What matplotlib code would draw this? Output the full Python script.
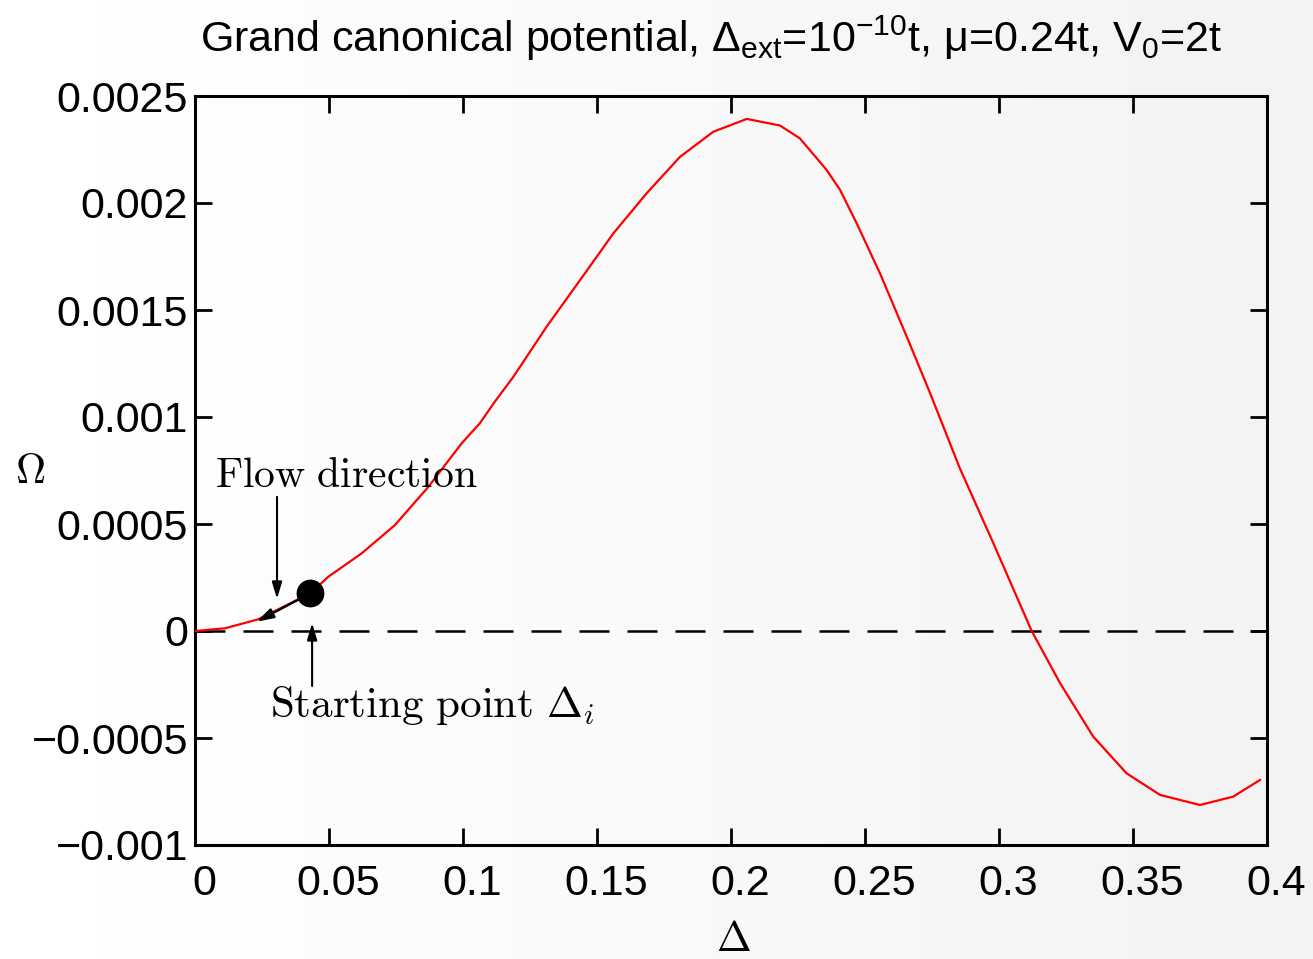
import numpy as np
import matplotlib
matplotlib.use("Agg")
import matplotlib.pyplot as plt
import matplotlib.transforms as mtransforms

# grand canonical potential
delta = [0.0, 0.0112, 0.0236, 0.0430, 0.0498, 0.0622, 0.0746, 0.0871, 0.0995,
         0.1063, 0.1119, 0.1188, 0.1312, 0.1437, 0.1561, 0.1685, 0.1810,
         0.1934, 0.2059, 0.2183, 0.2257, 0.2357, 0.2407, 0.2469, 0.2556,
         0.2656, 0.2743, 0.2854, 0.2979, 0.3122, 0.3228, 0.3352, 0.3476,
         0.3601, 0.3750, 0.3874, 0.3974]
omega = [0.0, 0.0000126, 0.0000547, 0.000176, 0.000254, 0.000363, 0.000495,
         0.000674, 0.000877, 0.000971, 0.001072, 0.001188, 0.001422,
         0.001640, 0.001858, 0.002045, 0.002216, 0.002333, 0.002393,
         0.002362, 0.002302, 0.002154, 0.002061, 0.001905, 0.001671,
         0.001375, 0.001111, 0.000760, 0.000410, 0.0, -0.000244, -0.000494,
         -0.000665, -0.000766, -0.000813, -0.000774, -0.000696]

start_point = (0.0430, 0.000176)
flow_tip = (0.0230, 0.0000435)

xticks = [0, 0.05, 0.1, 0.15, 0.2, 0.25, 0.3, 0.35, 0.4]
xtick_labels = ["0", "0.05", "0.1", "0.15", "0.2", "0.25", "0.3", "0.35", "0.4"]
yticks = [-0.001, -0.0005, 0, 0.0005, 0.001, 0.0015, 0.002, 0.0025]
ytick_labels = ["\u22120.001", "\u22120.0005", "0", "0.0005", "0.001",
                "0.0015", "0.002", "0.0025"]

plt.rcParams['font.family'] = ['Liberation Sans', 'DejaVu Sans']
plt.rcParams['mathtext.fontset'] = 'custom'
plt.rcParams['mathtext.rm'] = 'Liberation Sans'
plt.rcParams['mathtext.it'] = 'Liberation Sans:italic'
plt.rcParams['mathtext.sf'] = 'Liberation Sans'

fig = plt.figure(figsize=(13.13, 9.59), dpi=100)

# soft grey gradient behind everything
bg = fig.add_axes([0, 0, 1, 1], zorder=-10)
grad = np.linspace(1.0, 0.95, 256).reshape(1, -1)
bg.imshow(grad, cmap='gray', vmin=0, vmax=1, aspect='auto', extent=[0, 1, 0, 1])
bg.axis('off')

ax = fig.add_axes([195 / 1313, 1 - 845 / 959, 1072 / 1313, 749 / 959])
ax.set_facecolor('none')

ax.plot(delta, omega, color='red', lw=1.6, zorder=3)
ax.axhline(0, color='black', lw=1.8, linestyle=(0, (12, 7.2)), zorder=2)
ax.plot(*start_point, 'o', color='black', ms=19, zorder=5)

head = '-|>,head_length=1.0,head_width=0.3'
ax.annotate('', xy=flow_tip, xytext=start_point,
            arrowprops=dict(arrowstyle=head, color='black', lw=1.7,
                            shrinkA=0, shrinkB=0), zorder=4)
ax.annotate('', xy=(0.0306, 0.000150), xytext=(0.0306, 0.000627),
            arrowprops=dict(arrowstyle=head, color='black', lw=1.5,
                            shrinkA=0, shrinkB=0))
ax.annotate('', xy=(0.0437, 0.000037), xytext=(0.0437, -0.000257),
            arrowprops=dict(arrowstyle=head, color='black', lw=1.5,
                            shrinkA=0, shrinkB=0))

ax.text(0.0075, 0.000673, r'$\mathrm{Flow\ direction}$', fontsize=30,
        math_fontfamily='cm', va='baseline', ha='left')
ax.text(0.0280, -0.000402, r'$\mathrm{Starting\ point}\ \Delta_i$', fontsize=31,
        math_fontfamily='cm', va='baseline', ha='left')

ax.set_xlim(0, 0.4)
ax.set_ylim(-0.001, 0.0025)
ax.set_xticks(xticks)
ax.set_xticklabels(xtick_labels)
ax.set_yticks(yticks)
ax.set_yticklabels(ytick_labels)
ax.tick_params(direction='in', length=12, width=2, labelsize=31,
               top=True, right=True)
ax.tick_params(axis='x', pad=14)
ax.tick_params(axis='y', pad=5)
for s in ax.spines.values():
    s.set_linewidth(2.2)

offset = mtransforms.ScaledTranslation(9 / 100, 0, fig.dpi_scale_trans)
for lab in ax.xaxis.get_majorticklabels():
    lab.set_transform(lab.get_transform() + offset)

fig.text(30 / 1313, 1 - 472 / 959, r'$\Omega$', fontsize=30,
         math_fontfamily='cm', ha='center', va='center')
fig.text(733 / 1313, 1 - 940 / 959, r'$\Delta$', fontsize=30,
         math_fontfamily='cm', ha='center', va='center')

fig.text(711 / 1313, 1 - 38 / 959,
         r'Grand canonical potential, $\Delta_{\mathrm{ext}}$=10$^{-10}$t, '
         '\u03bc=0.24t, V$_0$=2t',
         fontsize=31, ha='center', va='center', math_fontfamily='custom')

fig.savefig('out.png', dpi=100)
